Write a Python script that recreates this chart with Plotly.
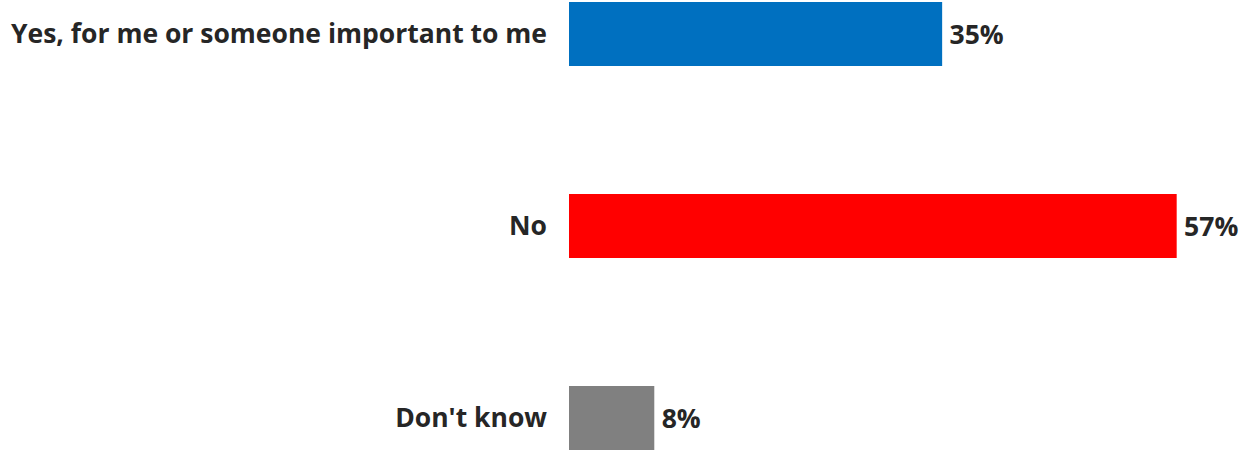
import plotly.graph_objects as go

# Survey answers and their shares (percent)
categories = ["Yes, for me or someone important to me", "No", "Don't know"]
shares = [35, 57, 8]
bar_colors = ["#0070C0", "#FF0000", "#808080"]

text_color = "#262626"
font_family = "'Open Sans', sans-serif"
font_size = 26.5

fig = go.Figure(
    go.Bar(
        y=categories,
        x=shares,
        orientation="h",
        marker=dict(color=bar_colors, line=dict(width=0)),
        width=0.333,
        text=[f"\u2009{v}%" for v in shares],
        textposition="outside",
        textfont=dict(family=font_family, size=font_size, color=text_color, weight="bold"),
        cliponaxis=False,
        hoverinfo="skip",
    )
)

fig.update_layout(
    width=1241,
    height=450,
    margin=dict(l=569, r=11, t=0, b=0),
    paper_bgcolor="white",
    plot_bgcolor="white",
    showlegend=False,
    font=dict(family=font_family, size=font_size, color=text_color),
    xaxis=dict(
        range=[0, 62],
        visible=False,
        showgrid=False,
        zeroline=False,
    ),
    yaxis=dict(
        type="category",
        categoryorder="array",
        categoryarray=categories,
        range=[2.167, -0.177],
        showgrid=False,
        zeroline=False,
        showline=False,
        ticks="",
        ticklabelstandoff=21,
        tickfont=dict(family=font_family, size=font_size, color=text_color, weight="bold"),
    ),
)

fig.write_html("out.html")
